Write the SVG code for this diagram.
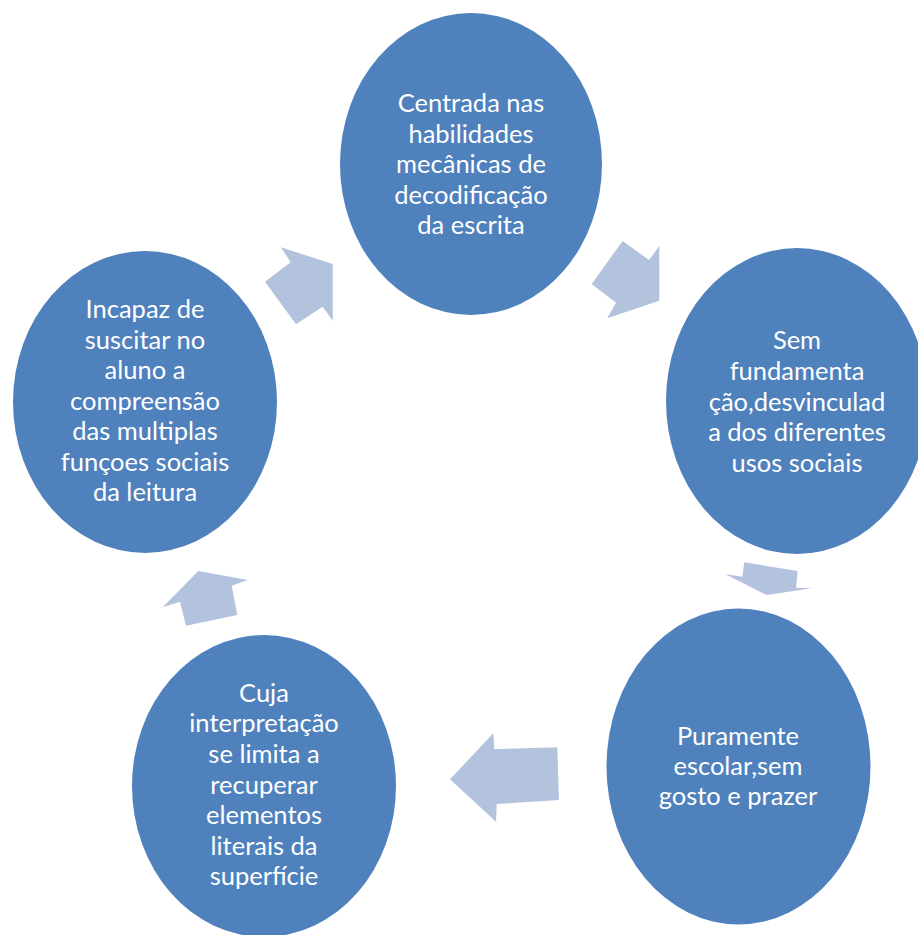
<svg xmlns="http://www.w3.org/2000/svg" width="918" height="935" viewBox="0 0 918 935">
<style>
.node{fill:#4F81BD;}
.arrow{fill:#B3C2DD;}
.lbl{font-family:Lato,"Liberation Sans",sans-serif;font-size:25.5px;fill:#FFFFFF;text-anchor:middle;}
</style>
<rect x="0" y="0" width="918" height="935" fill="#FFFFFF"/>
<g id="connectors">
<polygon class="arrow" points="622.7,241 649,260 659.3,246 659.3,300.7 607.3,318.3 616,302.7 591.7,284"/>
<polygon class="arrow" points="744.3,562.3 797.7,571 796,587.7 811.7,588.3 766.7,595 725,574 742.3,576.7"/>
<polygon class="arrow" points="493.3,733.3 494.3,749.3 557.3,747.3 559,800 496.7,804 496,821.7 450,779.3"/>
<polygon class="arrow" points="198.3,571 247.7,580 231.7,585.7 237.3,615 186,625.7 180,601.7 162.7,607.3"/>
<polygon class="arrow" points="281,247.3 332.7,264 332.7,320.7 322.7,306.7 296,324.3 265,281.7 290.7,262.3"/>
</g>
<g id="node-top">
<ellipse class="node" cx="471" cy="164" rx="131" ry="151"/>
<text class="lbl"><tspan x="471" y="112">Centrada nas</tspan><tspan x="471" y="142.5">habilidades</tspan><tspan x="471" y="173">mecânicas de</tspan><tspan x="471" y="203.5">decodificação</tspan><tspan x="471" y="234">da escrita</tspan></text>
</g>
<g id="node-right">
<ellipse class="node" cx="797" cy="401" rx="131" ry="153"/>
<text class="lbl"><tspan x="797" y="349.3">Sem</tspan><tspan x="797" y="380">fundamenta</tspan><tspan x="797" y="410.5">ção,desvinculad</tspan><tspan x="797" y="441">a dos diferentes</tspan><tspan x="797" y="471.7">usos sociais</tspan></text>
</g>
<g id="node-bottom-right">
<ellipse class="node" cx="738.5" cy="766.5" rx="132" ry="158"/>
<text class="lbl"><tspan x="738" y="745">Puramente</tspan><tspan x="738" y="775">escolar,sem</tspan><tspan x="738" y="805">gosto e prazer</tspan></text>
</g>
<g id="node-bottom-left">
<ellipse class="node" cx="264" cy="786" rx="132" ry="151"/>
<text class="lbl"><tspan x="264" y="701.7">Cuja</tspan><tspan x="264" y="732">interpretação</tspan><tspan x="264" y="763">se limita a</tspan><tspan x="264" y="793.5">recuperar</tspan><tspan x="264" y="824">elementos</tspan><tspan x="264" y="854.7">literais da</tspan><tspan x="264" y="885">superfície</tspan></text>
</g>
<g id="node-left">
<ellipse class="node" cx="145" cy="402" rx="132" ry="151"/>
<text class="lbl"><tspan x="145" y="318.3">Incapaz de</tspan><tspan x="145" y="348.5">suscitar no</tspan><tspan x="145" y="379">aluno a</tspan><tspan x="145" y="409.5">compreensão</tspan><tspan x="145" y="440">das multiplas</tspan><tspan x="145" y="470.5">funçoes sociais</tspan><tspan x="145" y="501">da leitura</tspan></text>
</g>
</svg>
